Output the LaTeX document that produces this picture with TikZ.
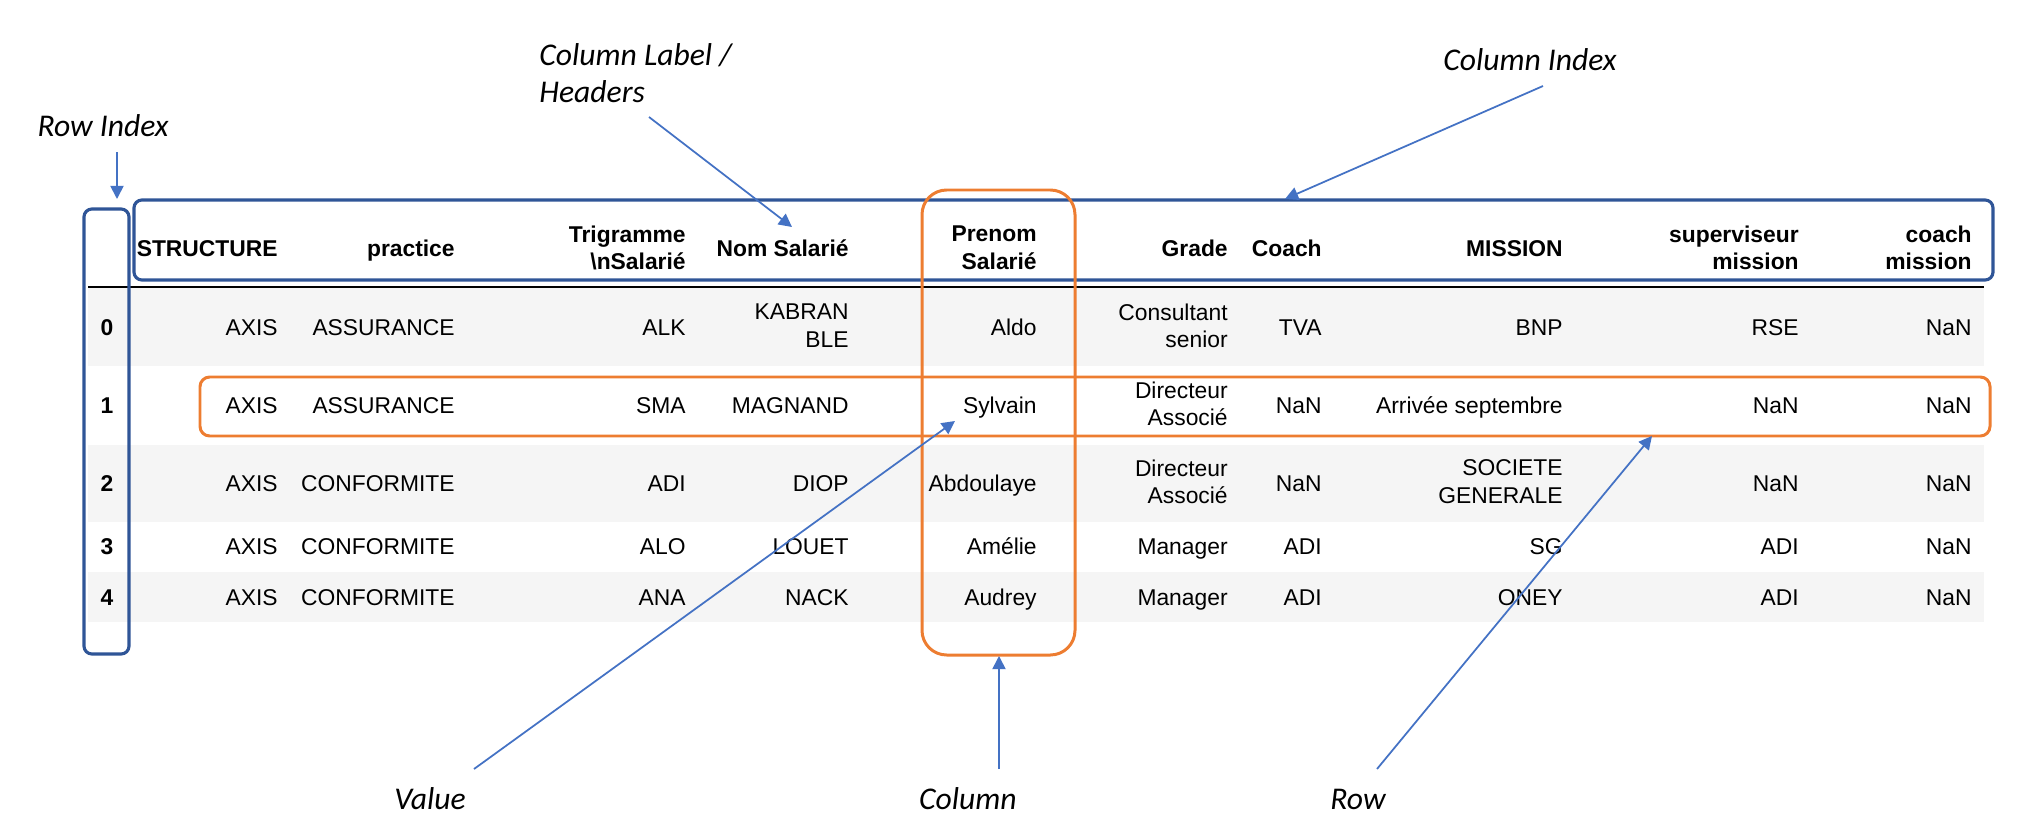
\documentclass[tikz,border=0pt]{standalone}
\usepackage{fontspec}
\setmainfont{Liberation Sans}
\newfontfamily\notefont{Carlito}
\usetikzlibrary{arrows.meta}
\definecolor{boxblue}{HTML}{2F5597}
\definecolor{arrowblue}{HTML}{4472C4}
\definecolor{boxorange}{HTML}{ED7D31}
\definecolor{bandgray}{HTML}{F5F5F5}
\tikzset{
  cell/.style={anchor=east, align=right, inner sep=0pt, yshift=-1.5pt,
    execute at begin node=\strut, execute at end node=\strut,
    font=\fontsize{13}{15.5}\selectfont},
  head/.style={cell, font=\fontsize{13}{15.5}\selectfont\bfseries},
  rownum/.style={cell, anchor=center},
  note/.style={inner sep=0pt, font=\fontsize{18}{21}\selectfont\notefont\itshape},
  pointer/.style={arrowblue, line width=1pt, -{Triangle[length=7.5pt,width=7.5pt]}},
  bluebox/.style={boxblue, line width=1.8pt, rounded corners=4.5pt},
  orangebox/.style={boxorange, line width=1.7pt}
}
\begin{document}
\begin{tikzpicture}[x=0.02cm, y=-0.02cm]
    \useasboundingbox (0,0) rectangle (2026,832);

    % bands and header rule
    \fill[bandgray] (88,287) rectangle (1984,366);
    \fill[bandgray] (88,445) rectangle (1984,522);
    \fill[bandgray] (88,572) rectangle (1984,622);
    \draw[line width=0.8pt] (88,287) -- (1984,287);

    % headers
    \node[head](h1) at (278,248){STRUCTURE};
    \node[head](h2) at (455,248){practice};
    \node[head](h3) at (686,249){Trigramme\\\textbackslash nSalarié};
    \node[head](h4) at (849,248){Nom Salarié};
    \node[head](h5) at (1037,249){Prenom\\Salarié};
    \node[head](h6) at (1228,248){Grade};
    \node[head](h7) at (1322,248){Coach};
    \node[head](h8) at (1563,248){MISSION};
    \node[head](h9) at (1799,249){superviseur\\mission};
    \node[head](h10) at (1972,249){coach\\mission};

    % rows
    \foreach \r/\y/\a/\b/\c/\d/\e/\f/\g/\h/\i/\j in {
      0/327/AXIS/ASSURANCE/ALK/{KABRAN\\BLE}/Aldo/{Consultant\\senior}/TVA/BNP/RSE/NaN,
      1/405/AXIS/ASSURANCE/SMA/MAGNAND/Sylvain/{Directeur\\Associé}/NaN/Arrivée septembre/NaN/NaN,
      2/483/AXIS/CONFORMITE/ADI/DIOP/Abdoulaye/{Directeur\\Associé}/NaN/{SOCIETE\\GENERALE}/NaN/NaN,
      3/546/AXIS/CONFORMITE/ALO/LOUET/Amélie/Manager/ADI/SG/ADI/NaN,
      4/597/AXIS/CONFORMITE/ANA/NACK/Audrey/Manager/ADI/ONEY/ADI/NaN}{
      \node[rownum, font=\fontsize{13}{15.5}\selectfont\bfseries](r\r) at (107,\y){\r};
      \node[cell](r\r-1) at (278,\y){\a};
      \node[cell](r\r-2) at (455,\y){\b};
      \node[cell](r\r-3) at (686,\y){\c};
      \node[cell](r\r-4) at (849,\y){\d};
      \node[cell](r\r-5) at (1037,\y){\e};
      \node[cell](r\r-6) at (1228,\y){\f};
      \node[cell](r\r-7) at (1322,\y){\g};
      \node[cell](r\r-8) at (1563,\y){\h};
      \node[cell](r\r-9) at (1799,\y){\i};
      \node[cell](r\r-10) at (1972,\y){\j};
    }

    % highlight boxes
    \draw[bluebox] (84,209) rectangle (129,654);
    \draw[bluebox] (134,200) rectangle (1993,280);
    \draw[orangebox, rounded corners=14pt] (922,190) rectangle (1075,655);
    \draw[orangebox, rounded corners=5.5pt] (200,377) rectangle (1990,436);

    % labels
    \node[note](rowidx) at (103,126){Row Index};
    \node[note, anchor=west, align=left](collbl) at (539,73){Column Label /\\Headers};
    \node[note](colidx) at (1530,60){Column Index};
    \node[note](val) at (430,799){Value};
    \node[note](col) at (968,799){Column};
    \node[note](row) at (1358,799){Row};

    \coordinate (rowidx-from) at (117,152);
    \coordinate (rowidx-to) at (117,199);
    \coordinate (collbl-from) at (649,117);
    \coordinate (collbl-to) at (792,227);
    \coordinate (colidx-from) at (1543,86);
    \coordinate (colidx-to) at (1285,199);
    \coordinate (val-from) at (474,769);
    \coordinate (val-to) at (955,421);
    \coordinate (col-from) at (999,769);
    \coordinate (col-to) at (999,656);
    \coordinate (row-from) at (1377,769);
    \coordinate (row-to) at (1652,436);

    \draw[pointer] (rowidx-from) -- (rowidx-to);
    \draw[pointer] (collbl-from) -- (collbl-to);
    \draw[pointer] (colidx-from) -- (colidx-to);
    \draw[pointer] (val-from) -- (val-to);
    \draw[pointer] (col-from) -- (col-to);
    \draw[pointer] (row-from) -- (row-to);
  \end{tikzpicture}
\end{document}
